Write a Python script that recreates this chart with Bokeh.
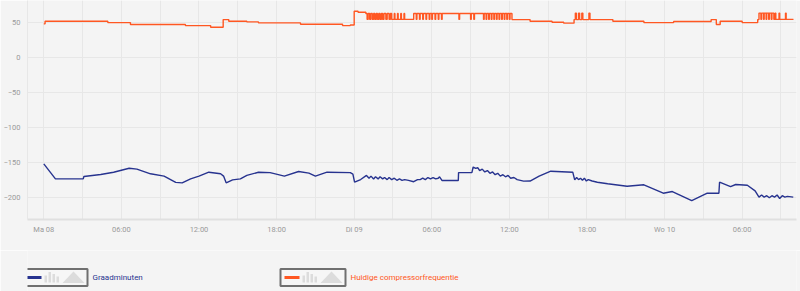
from bokeh.plotting import figure
from bokeh.layouts import column
from bokeh.models import FixedTicker, Range1d
from bokeh.embed import file_html
from bokeh.resources import INLINE
from bokeh.core.properties import value

BG = "#f4f4f4"
GRID = "#e7e7e7"
BLUE = "#27338f"
ORANGE = "#ff5722"

# x in hours since Ma 08 00:00
tick_hours = [0, 6, 12, 18, 24, 30, 36, 42, 48, 54]
tick_labels = ["Ma 08", "06:00", "12:00", "18:00", "Di 09", "06:00", "12:00", "18:00", "Wo 10", "06:00"]
minor_hours = [3, 9, 15, 21, 27, 33, 39, 45, 51, 57]
y_ticks = [-200, -150, -100, -50, 0, 50]

series_names = ["Graadminuten", "Huidige compressorfrequentie"]
series_colors = [BLUE, ORANGE]

graad_t = [0, 0.9, 3.05, 3.1, 4.4, 5.4, 6.6, 7.2, 8.25, 9.3, 10.2, 10.7, 11.35, 12.0, 12.76, 13.67,
           13.9, 14.1, 14.6, 15.2, 15.7, 16.6, 17.5, 18.6, 19.7, 20.5, 21.0, 21.9, 23.7, 23.9, 24.03,
           24.5, 24.95, 25.15, 25.3, 25.5, 25.65, 25.85, 26.0, 26.2, 26.35, 26.55, 26.7, 26.9, 27.1,
           27.3, 27.5, 27.7, 27.9, 28.2, 28.6, 28.9, 29.1, 29.3, 29.5, 29.7, 29.9, 30.1, 30.3, 30.5,
           30.6, 30.8, 32.05, 32.07, 33.1, 33.2, 33.4, 33.55, 33.7, 33.9, 34.1, 34.3, 34.5, 34.7, 34.9,
           35.1, 35.3, 35.5, 35.7, 35.9, 36.1, 36.35, 36.6, 37.1, 37.6, 38.3, 39.2, 40.9, 41.05, 41.2,
           41.35, 41.5, 41.65, 41.8, 41.95, 42.1, 42.4, 42.8, 43.6, 45.1, 46.4, 47.9, 48.6, 50.1, 51.3,
           52.2, 52.25, 53.1, 53.5, 54.4, 55.0, 55.3, 55.5, 55.7, 55.9, 56.1, 56.3, 56.5, 56.7, 56.9,
           57.1, 57.3, 57.5, 57.95]
graad_v = [-151.4, -172.9, -173, -169.6, -166.7, -163.4, -157.7, -159, -165.7, -169, -178, -178.6,
           -173, -169, -163.4, -165.7, -169, -178.6, -174.3, -173, -168, -163.4, -164, -169, -162.4,
           -164.8, -169, -163.4, -164, -166, -177.7, -173.9, -168, -172, -169, -173, -170, -173, -170,
           -173, -171, -174, -171, -174, -172, -175, -173, -175, -174, -175, -177, -174, -174, -172,
           -174, -171, -173, -171, -173, -172, -170, -175.3, -175.3, -164, -164, -156, -158, -157,
           -161, -159, -163, -161, -165, -163, -167, -165, -169, -167, -170, -168, -172, -171, -174,
           -176.2, -176, -169, -162, -163.4, -174.3, -171, -174, -172, -175, -172, -176, -174, -176,
           -177.7, -180, -183.4, -181.4, -193.4, -191, -203.9, -193.4, -193.4, -177.7, -183.9, -181,
           -182, -190, -199, -196, -199, -197, -200, -197, -199, -196, -201, -197, -199, -198, -199]

freq_t = [0.0, 0.1, 4.95, 6.7, 10.95, 12.9, 13.87, 14.3, 15.7, 16.6, 19.85, 23.1, 23.7, 24.0, 24.3,
          24.9, 25.0, 25.08, 25.2, 25.28, 25.4, 25.5, 25.6, 25.7, 25.8, 25.9, 26.0, 26.1, 26.2, 26.3,
          26.45, 26.55, 26.7, 26.8, 26.9, 27.1, 27.15, 27.35, 27.4, 27.6, 27.65, 27.85, 27.9, 28.6,
          28.8, 28.85, 29.05, 29.1, 29.3, 29.35, 29.55, 29.6, 29.8, 29.85, 30.0, 30.05, 30.25, 30.3,
          30.5, 30.55, 30.75, 30.8, 32.1, 32.15, 33.0, 33.05, 33.25, 33.3, 34.0, 34.05, 34.2, 34.25,
          34.4, 34.45, 34.6, 34.65, 34.8, 34.85, 35.0, 35.05, 35.2, 35.25, 35.4, 35.45, 35.6, 35.65,
          35.8, 35.85, 36.0, 36.05, 36.2, 37.6, 39.3, 40.2, 41.0, 41.1, 41.18, 41.35, 41.43, 41.6,
          41.68, 42.15, 42.23, 44.0, 46.4, 48.7, 51.6, 52.0, 52.3, 54.0, 55.2, 55.3, 55.45, 55.5,
          55.65, 55.7, 55.85, 55.9, 56.05, 56.1, 56.25, 56.3, 56.45, 56.55, 56.6, 56.85, 56.9, 57.35,
          57.4, 57.95]
freq_v = [48.6, 52.3, 50.4, 47.6, 46.1, 43.8, 54.7, 52.3, 51.4, 50.0, 48.0, 46.1, 47.0, 66.6, 65.2,
          63.5, 55, 63.5, 55, 63.5, 55, 63.5, 55, 63.5, 55, 63.5, 55, 63.5, 55, 63.5,
          55, 63.5, 55, 63.5, 55, 63.5, 55, 63.5, 55, 63.5, 55, 63.5, 55, 63.5,
          55, 63.5, 55, 63.5, 55, 63.5, 55, 63.5, 55, 63.5, 55, 63.5, 55, 63.5,
          55, 63.5, 55, 63.5, 55, 63.5, 55, 63.5, 55, 63.5, 55, 63.5, 55, 63.5,
          55, 63.5, 55, 63.5, 55, 63.5, 55, 63.5, 55, 63.5, 55, 63.5, 55, 63.5,
          55, 63.5, 55, 63.5, 54.7, 52.3, 51.0, 49.6, 54.7, 64, 54.7, 64, 54.7, 64,
          54.7, 64, 54.7, 52.3, 50.4, 51.9, 54.7, 47.6, 52.3, 50.4, 54.7, 64, 55, 64,
          55, 64, 55, 64, 55, 64, 55, 64, 55, 64, 55, 64, 55, 64,
          55, 54.7]

FONT = "Roboto"
LEFT, RIGHT = 27, 4

p = figure(width=800, height=250, x_range=Range1d(-1.26, 58.2), y_range=Range1d(-231, 82),
           output_backend="svg", toolbar_location=None,
           min_border_left=LEFT, min_border_right=RIGHT, min_border_top=0, min_border_bottom=31)
p.background_fill_color = BG
p.border_fill_color = BG
p.outline_line_color = None

p.line(graad_t, graad_v, line_color=BLUE, line_width=1.4)
p.step(freq_t, freq_v, mode="after", line_color=ORANGE, line_width=1.4)

p.xaxis.ticker = FixedTicker(ticks=tick_hours, minor_ticks=minor_hours)
p.xaxis.major_label_overrides = {h: lab for h, lab in zip(tick_hours, tick_labels)}
p.yaxis.ticker = FixedTicker(ticks=y_ticks)
for ax in (p.xaxis[0], p.yaxis[0]):
    ax.major_tick_line_color = None
    ax.minor_tick_line_color = None
    ax.major_tick_out = 0
    ax.major_tick_in = 0
    ax.minor_tick_out = 0
    ax.minor_tick_in = 0
    ax.major_label_text_font = FONT
    ax.major_label_text_font_size = "7.5px"
    ax.major_label_text_color = "#9a9a9a"
p.xaxis.axis_line_color = "#e0e0e0"
p.xaxis.axis_line_width = 2
p.yaxis.axis_line_color = GRID
p.xaxis.major_label_standoff = 5
p.yaxis.major_label_standoff = 7

p.xgrid.grid_line_color = GRID
p.xgrid.minor_grid_line_color = GRID
p.ygrid.grid_line_color = GRID

# custom legend strip (x data units equal page pixels)
lg = figure(width=800, height=41, x_range=Range1d(LEFT, 800 - RIGHT), y_range=Range1d(41, 0),
            output_backend="svg", toolbar_location=None, x_axis_type=None, y_axis_type=None,
            min_border_left=LEFT, min_border_right=RIGHT, min_border_top=0, min_border_bottom=0)
lg.background_fill_color = BG
lg.border_fill_color = BG
lg.outline_line_color = None

box_x = [22, 280]
text_x = [92, 350]
for bx, tx, name, col in zip(box_x, text_x, series_names, series_colors):
    lg.quad(left=[bx], right=[bx + 65], top=[18.5], bottom=[35.5],
            fill_color="#f6f6f6", line_color="#707070", line_width=2)
    lg.segment(x0=[bx + 4], y0=[27], x1=[bx + 19], y1=[27], line_color=col, line_width=3)
    lg.quad(left=[bx + 22, bx + 26, bx + 30, bx + 34], right=[bx + 24.5, bx + 28.5, bx + 32.5, bx + 36.5],
            top=[25, 21.5, 23.5, 26], bottom=[32, 32, 32, 32], fill_color="#dcdcdc", line_color=None)
    lg.patch(x=[bx + 40, bx + 51, bx + 62], y=[32.5, 21, 32.5], fill_color="#dcdcdc", line_color=None)
    lg.text(x=[tx], y=[27], text=[name], text_color=col, text_font=value(FONT),
            text_font_size="8px", text_baseline="middle", text_align="left")

layout = column(p, lg, spacing=0)
open("out.html", "w").write(file_html(layout, INLINE))
